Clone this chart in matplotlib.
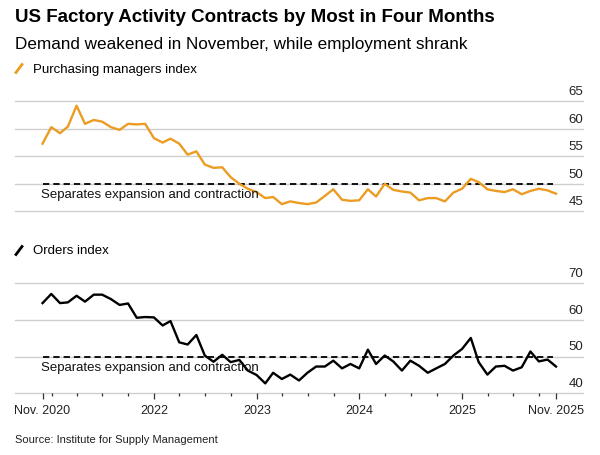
import matplotlib
matplotlib.use('Agg')
import matplotlib.pyplot as plt
from matplotlib.lines import Line2D
import pandas as pd

plt.rcParams['font.family'] = ['Liberation Sans', 'DejaVu Sans']

# ─── Données (ISM, mensuel, nov. 2020 → nov. 2025) ─────────
months = pd.date_range('2020-11-30', periods=61, freq='ME')

pmi = [57.3, 60.3, 59.2, 60.4, 64.2, 60.9, 61.6, 61.3, 60.3, 59.8, 60.9,
       60.8, 60.9, 58.3, 57.5, 58.2, 57.3, 55.3, 55.9, 53.5, 52.9, 53.0,
       51.2, 50.0, 49.1, 48.5, 47.4, 47.6, 46.3, 46.8, 46.5, 46.3, 46.6,
       47.8, 49.0, 47.1, 46.9, 47.0, 49.0, 47.7, 50.0, 48.9, 48.6, 48.4,
       47.0, 47.4, 47.4, 46.8, 48.4, 49.1, 50.9, 50.3, 49.0, 48.7, 48.5,
       49.0, 48.1, 48.7, 49.1, 48.8, 48.2]

orders = [64.6, 67.1, 64.6, 64.8, 66.6, 65.0, 66.9, 66.9, 65.7, 64.1, 64.5,
          60.6, 60.8, 60.7, 58.5, 59.7, 53.9, 53.3, 55.9, 50.3, 48.6, 50.5,
          48.5, 49.1, 46.2, 45.0, 42.7, 45.6, 43.9, 45.1, 43.5, 45.6, 47.3,
          47.3, 48.9, 46.8, 48.0, 46.8, 51.9, 48.0, 50.3, 48.7, 46.2, 48.9,
          47.5, 45.6, 46.8, 48.0, 50.3, 52.1, 55.1, 48.5, 45.1, 47.3, 47.5,
          46.2, 47.1, 51.4, 48.7, 49.2, 47.3]

pmi_ticks = [45, 50, 55, 60, 65]
orders_ticks = [40, 50, 60, 70]
x_major_dates = [months[0], pd.Timestamp('2022-01-01'), pd.Timestamp('2023-01-01'),
                 pd.Timestamp('2024-01-01'), pd.Timestamp('2025-01-01'), months[-1]]
x_major_labels = ['Nov. 2020', '2022', '2023', '2024', '2025', 'Nov. 2025']
THRESHOLD = 50
ORANGE = '#ec9c22'
GRID = '#cfcfcf'
# ───────────────────────────────────────────────────────────

W, H = 600, 456
fig = plt.figure(figsize=(W / 100, H / 100), dpi=100)


def fx(px):
    return px / W


def fy(py):
    return 1 - py / H


left, width = fx(15), (583 - 15) / W
ax_top = fig.add_axes([left, fy(212.3), width, 110 / H])
ax_bot = fig.add_axes([left, fy(394.3), width, 110 / H])

xlim = (months[0] - pd.Timedelta(days=98), months[-1] + pd.Timedelta(days=96))


def style_panel(ax, ticks, values, color):
    """Grille, étiquettes à droite, seuil à 50 et la courbe."""
    ax.set_xlim(*xlim)
    ax.set_ylim(ticks[0], ticks[-1])
    for t in ticks:
        ax.axhline(t, color=GRID, lw=1.0, zorder=1, clip_on=False)
        ax.annotate(str(t), xy=(1, t), xycoords=ax.get_yaxis_transform(),
                    xytext=(0, 3), textcoords='offset points',
                    ha='right', va='bottom', fontsize=9.5, color='#222222')
    ax.hlines(THRESHOLD, months[0], months[-1] - pd.Timedelta(days=12),
              colors='black', linestyles=(0, (3.5, 2.2)), lw=1.3, zorder=2)
    ax.annotate('Separates expansion and contraction', xy=(months[0], THRESHOLD),
                xytext=(-1, -3), textcoords='offset points', ha='left', va='top',
                fontsize=9.5, color='#111111', zorder=4)
    ax.plot(months, values, color=color, lw=1.7, zorder=3, clip_on=False)
    for s in ax.spines.values():
        s.set_visible(False)
    ax.set_yticks([])
    ax.set_xticks([])
    ax.patch.set_alpha(0)


style_panel(ax_top, pmi_ticks, pmi, ORANGE)
style_panel(ax_bot, orders_ticks, orders, 'black')

# axe des x (panneau du bas)
ax_bot.set_xticks(x_major_dates)
ax_bot.set_xticklabels(x_major_labels, fontsize=9, color='#222222')
minor = [d for d in pd.date_range('2021-01-01', '2025-10-01', freq='QS')
         if d.month != 1] + [pd.Timestamp('2021-01-01')]
ax_bot.set_xticks(minor, minor=True)
ax_bot.tick_params(axis='x', which='major', length=4.5, width=0.9, color='#333333',
                   pad=3.5, direction='out')
ax_bot.tick_params(axis='x', which='minor', length=2.5, width=0.9, color='#333333',
                   direction='out')

# titres et légendes
fig.text(fx(15), fy(18), 'US Factory Activity Contracts by Most in Four Months',
         fontsize=13.5, fontweight='bold', va='center', ha='left')
fig.text(fx(15), fy(45), 'Demand weakened in November, while employment shrank',
         fontsize=12.3, va='center', ha='left')

fig.add_artist(Line2D([fx(16), fx(22)], [fy(73.5), fy(65.5)], color=ORANGE, lw=2))
fig.text(fx(33), fy(69.5), 'Purchasing managers index', fontsize=9.5, va='center')
fig.add_artist(Line2D([fx(16), fx(22)], [fy(255.5), fy(247.5)], color='black', lw=2))
fig.text(fx(33), fy(251.5), 'Orders index', fontsize=9.5, va='center')

fig.text(fx(15), fy(440), 'Source: Institute for Supply Management', fontsize=8,
         va='center', color='#222222')

fig.savefig('out.png', dpi=100)
